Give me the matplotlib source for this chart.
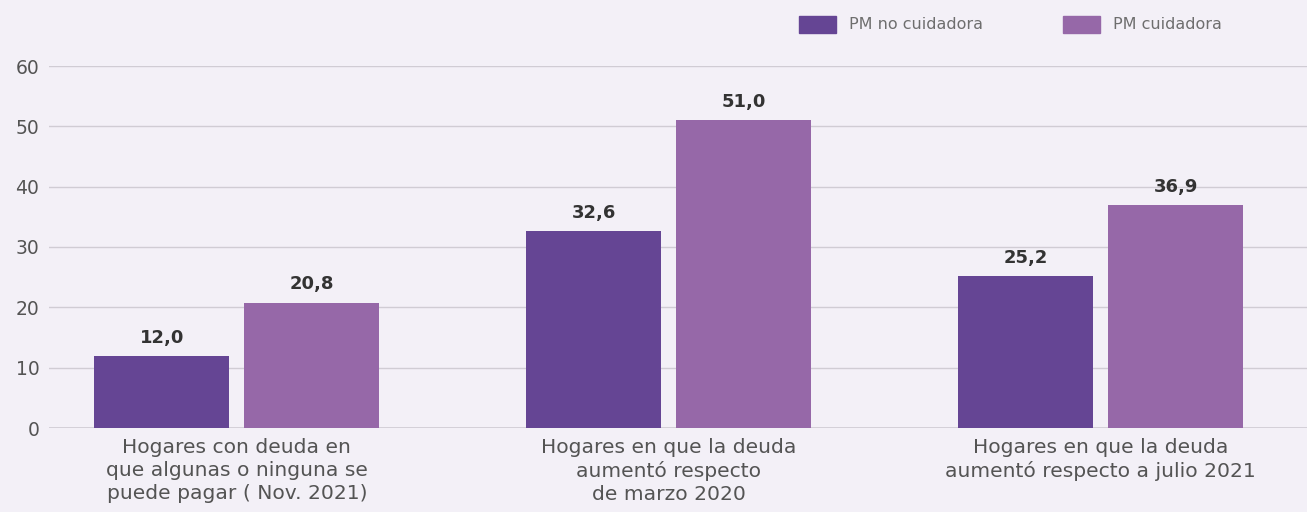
import matplotlib
matplotlib.use("Agg")
import matplotlib.pyplot as plt
from matplotlib.patches import Rectangle

categories = ["Hogares con deuda en\nque algunas o ninguna se\npuede pagar ( Nov. 2021)",
              "Hogares en que la deuda\naumentó respecto\nde marzo 2020",
              "Hogares en que la deuda\naumentó respecto a julio 2021"]
series_names = ["PM no cuidadora", "PM cuidadora"]
no_cuidadora = [12.0, 32.6, 25.2]
cuidadora = [20.8, 51.0, 36.9]
yticks = [0, 10, 20, 30, 40, 50, 60]

bg = "#f3f0f7"
c_dark = "#654594"
c_light = "#9668a8"
txt = "#545454"
grid = "#d0ccd4"
font = "DejaVu Sans"

W, H = 1307, 512
fig = plt.figure(figsize=(W/100, H/100), dpi=100, facecolor=bg)
ax = fig.add_axes([49/W, 1-428/H, (W-49)/W, (428-66)/H])
ax.set_facecolor(bg)

w = 0.3125
off = 0.1736
xs = list(range(len(categories)))
b1 = ax.bar([i - off for i in xs], no_cuidadora, width=w, color=c_dark, zorder=3)
b2 = ax.bar([i + off for i in xs], cuidadora, width=w, color=c_light, zorder=3)
for bars, vals in ((b1, no_cuidadora), (b2, cuidadora)):
    for b, v in zip(bars, vals):
        ax.annotate(f"{v:.1f}".replace(".", ","), (b.get_x() + b.get_width()/2, v),
                    xytext=(0, 6.5), textcoords="offset points", ha="center", va="bottom",
                    fontsize=13, fontweight="bold", color="#333333", family=font)

ax.set_xlim(-0.435, 2.478)
ax.set_ylim(0, 60)
ax.set_yticks(yticks)
ax.set_yticklabels([str(t) for t in yticks], fontsize=13.5, color=txt, family=font)
ax.yaxis.grid(True, color=grid, linewidth=1, zorder=0)
ax.set_axisbelow(True)
ax.tick_params(axis="y", length=0, pad=7)
ax.tick_params(axis="x", length=0, pad=7.5)
ax.set_xticks(xs)
ax.set_xticklabels(categories, fontsize=14.6, color=txt, family=font, linespacing=1.25)
for s in ax.spines.values():
    s.set_visible(False)
ax.axhline(0, color=grid, linewidth=1.2, zorder=1)

# legend
for (xp, name, col) in ((799, series_names[0], c_dark), (1063, series_names[1], c_light)):
    fig.patches.append(Rectangle((xp/W, 1-33/H), 37/W, 17/H, transform=fig.transFigure,
                                 color=col, figure=fig))
    fig.text((xp+50)/W, 1-24.5/H, name, fontsize=11.5, color="#6e6e6e", family=font, va="center")

fig.savefig("out.png", dpi=100, facecolor=bg)
